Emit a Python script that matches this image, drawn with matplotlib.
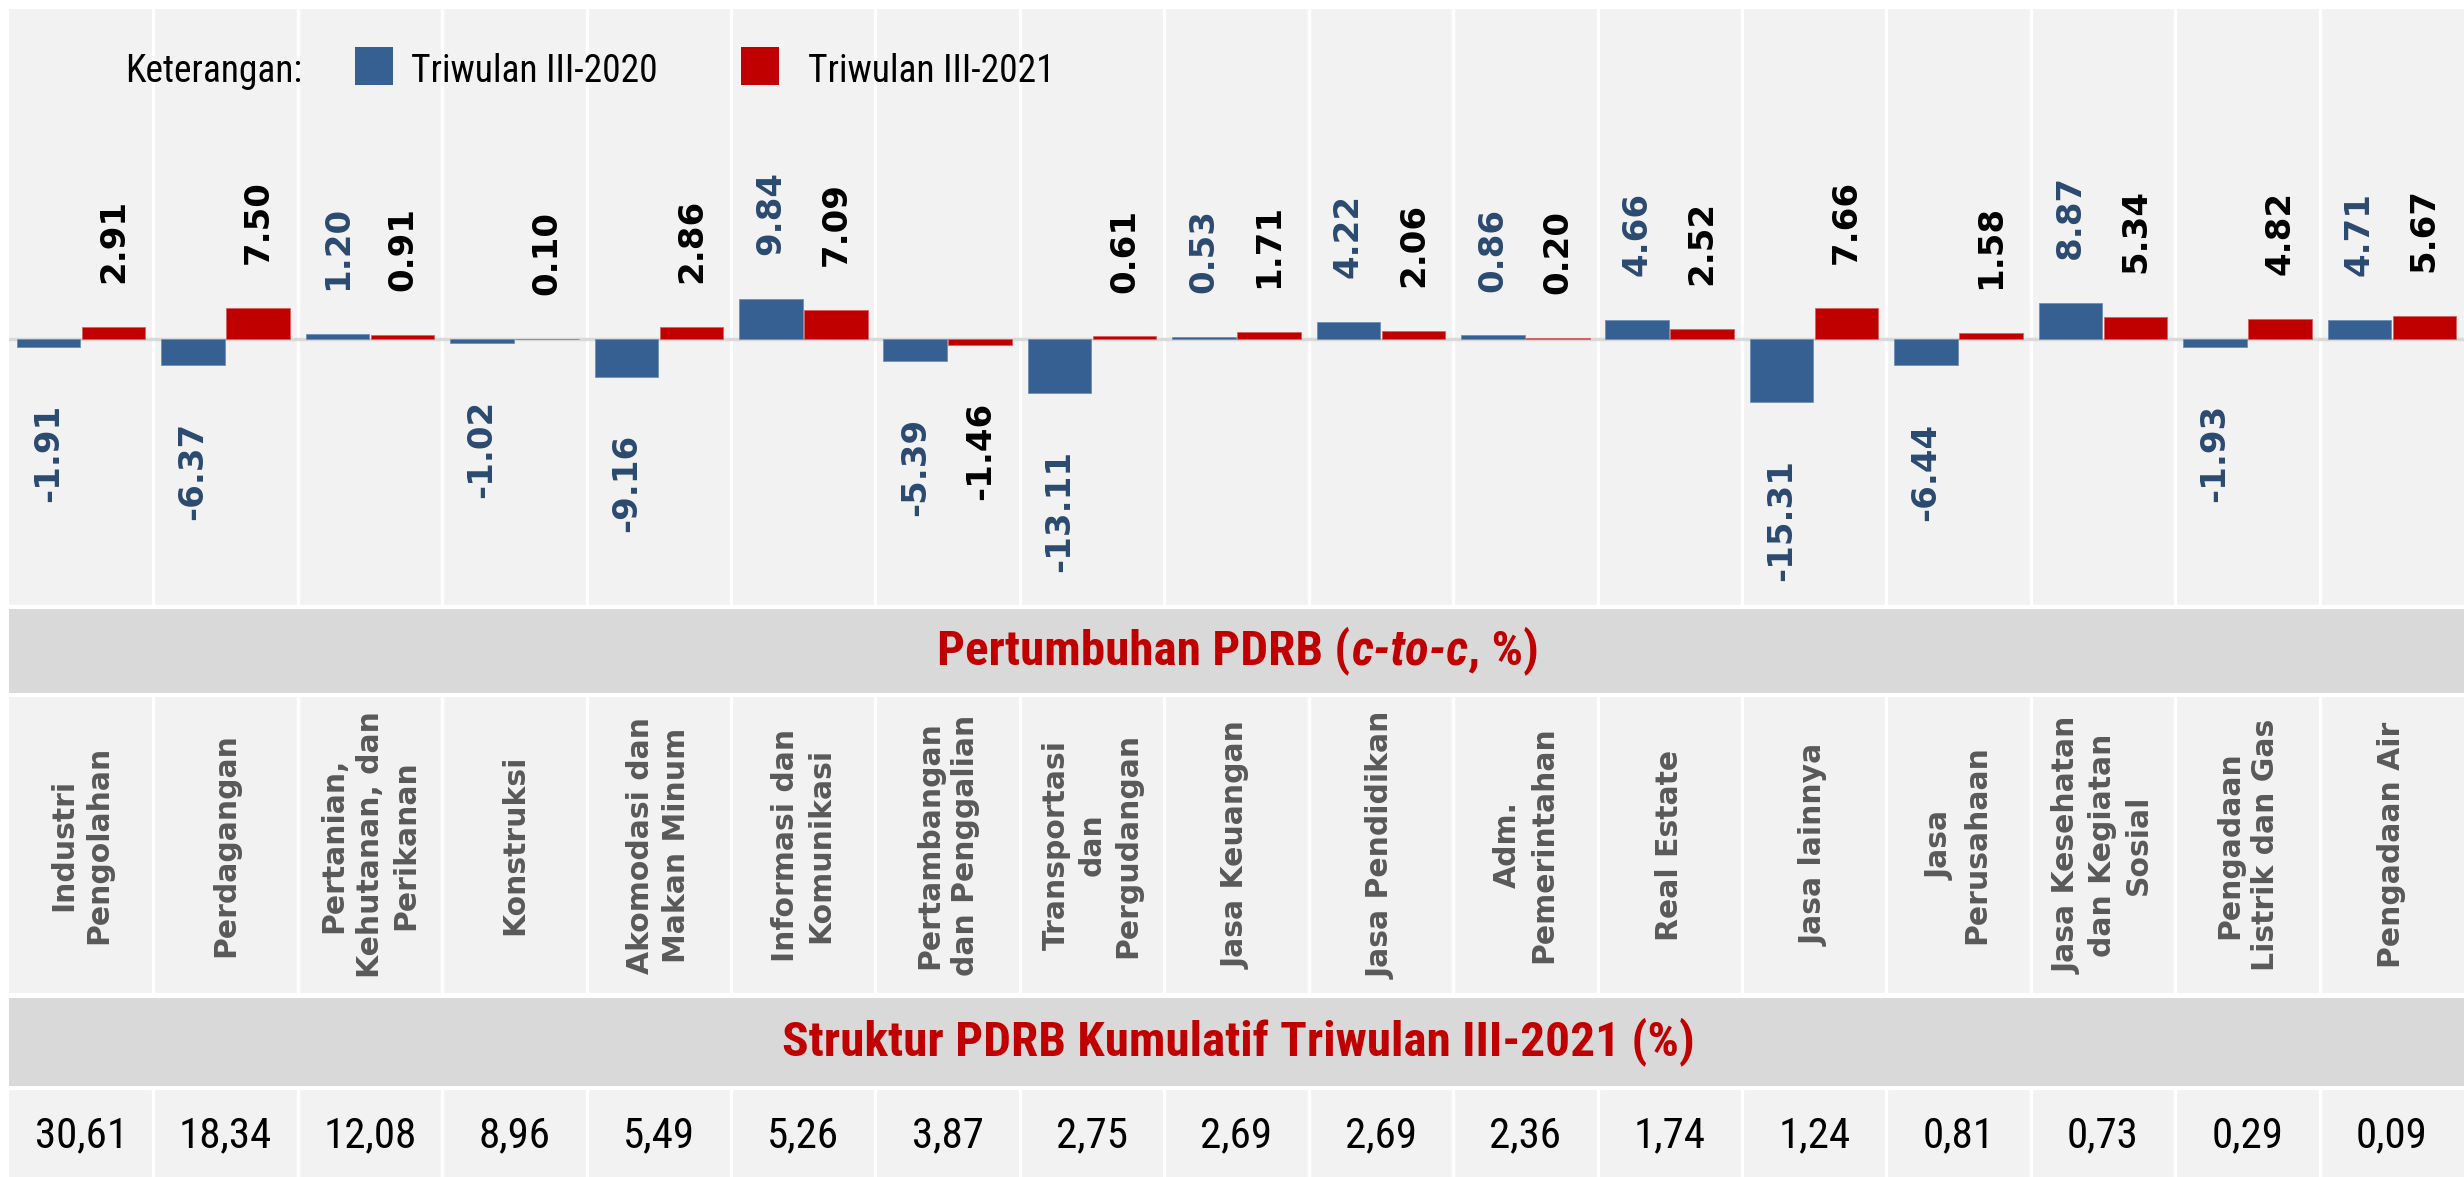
import os
import matplotlib
matplotlib.use("Agg")
import matplotlib.pyplot as plt
from matplotlib import font_manager as fm
from matplotlib.font_manager import FontProperties
from matplotlib.patches import Rectangle
import numpy as np

# ---------------- data ----------------
categories = [
    "Industri\nPengolahan", "Perdagangan", "Pertanian,\nKehutanan, dan\nPerikanan",
    "Konstruksi", "Akomodasi dan\nMakan Minum", "Informasi dan\nKomunikasi",
    "Pertambangan\ndan Penggalian", "Transportasi\ndan\nPergudangan", "Jasa Keuangan",
    "Jasa Pendidikan", "Adm.\nPemerintahan", "Real Estate", "Jasa lainnya",
    "Jasa\nPerusahaan", "Jasa Kesehatan\ndan Kegiatan\nSosial",
    "Pengadaan\nListrik dan Gas", "Pengadaan Air",
]
growth_2020 = [-1.91, -6.37, 1.20, -1.02, -9.16, 9.84, -5.39, -13.11, 0.53,
               4.22, 0.86, 4.66, -15.31, -6.44, 8.87, -1.93, 4.71]
growth_2021 = [2.91, 7.50, 0.91, 0.10, 2.86, 7.09, -1.46, 0.61, 1.71,
               2.06, 0.20, 2.52, 7.66, 1.58, 5.34, 4.82, 5.67]
structure_2021 = [30.61, 18.34, 12.08, 8.96, 5.49, 5.26, 3.87, 2.75, 2.69,
                  2.69, 2.36, 1.74, 1.24, 0.81, 0.73, 0.29, 0.09]
series_names = ["Triwulan III-2020", "Triwulan III-2021"]
legend_caption = "Keterangan:"
title_growth_parts = ["Pertumbuhan PDRB (", "c-to-c", ", %)"]
title_structure = "Struktur PDRB Kumulatif Triwulan III-2021 (%)"

# ---------------- fonts ----------------
def find_narrow():
    prefs = ["liberationsansnarrow", "robotocondensed", "opensanscondensed", "dejavusanscondensed"]
    for p in prefs:
        for f in fm.fontManager.ttflist:
            b = os.path.basename(f.fname).lower().replace("-", "").replace("_", "")
            if b.startswith(p):
                return f.name, f.stretch
    return "Liberation Sans", "normal"

NARROW, NSTRETCH = find_narrow()

def nprop(size, weight="normal", style="normal"):
    return FontProperties(family=NARROW, stretch=NSTRETCH, weight=weight, style=style, size=size)

# ---------------- colours ----------------
C_BLUE = "#376092"
C_RED = "#C00000"
C_BLUE_LBL = "#2B4A6F"
C_PANEL = "#F2F2F2"
C_BAND = "#D9D9D9"
C_CAT = "#595959"

W, H = 2464, 1177
fig = plt.figure(figsize=(W / 100, H / 100), dpi=100)
fig.patch.set_facecolor("white")

LEFT = 9

def add_axes_px(top, bottom):
    return fig.add_axes([LEFT / W, 1 - bottom / H, (W - LEFT) / W, (bottom - top) / H])

n = len(categories)
x = np.arange(n)

def setup(ax, color, seps=True):
    ax.set_facecolor(color)
    ax.set_xlim(-0.5, n - 0.5)
    for s in ax.spines.values():
        s.set_visible(False)
    ax.set_xticks([])
    ax.set_yticks([])
    if seps:
        for k in range(n - 1):
            ax.axvline(k + 0.5, color="white", lw=2.3, zorder=1)

# ---------------- bar area ----------------
ax = add_axes_px(9, 605)
setup(ax, C_PANEL)
px_per_unit = 4.1
ax.set_ylim(-(605 - 339) / px_per_unit, (339 - 9) / px_per_unit)
ax.axhline(0, color=C_BAND, lw=2.5, zorder=1.5)

bw = 0.44
off = 0.225
ax.bar(x - off, growth_2020, width=bw, color=C_BLUE, edgecolor="#6F8FB5", linewidth=0.6, zorder=2)
ax.bar(x + off, growth_2021, width=bw, color=C_RED, edgecolor="#D86060", linewidth=0.6, zorder=2)

pos_gap = 10.7
neg_gap = 13.9
for series, dx, col in ((growth_2020, -off, C_BLUE_LBL), (growth_2021, off, "black")):
    for xi, v in zip(x, series):
        if v >= 0:
            ax.text(xi + dx, v + pos_gap, f"{v:.2f}", rotation=90, ha="center", va="bottom",
                    fontsize=24.5, fontweight="bold", color=col, family="DejaVu Sans", zorder=3)
        else:
            ax.text(xi + dx, v - neg_gap, f"{v:.2f}", rotation=90, ha="center", va="top",
                    fontsize=24.5, fontweight="bold", color=col, family="DejaVu Sans", zorder=3)

# legend (manual)
ly = 1 - 82 / H
lp = nprop(27)
fig.text(125 / W, ly, legend_caption, ha="left", va="baseline", fontproperties=lp, color="black")
fig.patches.append(Rectangle((355 / W, 1 - 85 / H), 38 / W, 38 / H, transform=fig.transFigure,
                             facecolor=C_BLUE, edgecolor="none"))
fig.text(411 / W, ly, series_names[0], ha="left", va="baseline", fontproperties=lp, color="black")
fig.patches.append(Rectangle((741 / W, 1 - 85 / H), 38 / W, 38 / H, transform=fig.transFigure,
                             facecolor=C_RED, edgecolor="none"))
fig.text(808 / W, ly, series_names[1], ha="left", va="baseline", fontproperties=lp, color="black")

# ---------------- band 1 ----------------
b1 = add_axes_px(609, 693)
setup(b1, C_BAND, seps=False)

# ---------------- category label row ----------------
axl = add_axes_px(697, 993)
setup(axl, C_PANEL)
axl.set_ylim(0, 1)
for xi, lab in zip(x, categories):
    axl.text(xi, 0.5, lab, rotation=90, ha="center", va="center", multialignment="center",
             fontsize=21.5, fontweight="bold", color=C_CAT, family="DejaVu Sans", linespacing=1.3)

# ---------------- band 2 ----------------
b2 = add_axes_px(998, 1086)
setup(b2, C_BAND, seps=False)

# ---------------- values row ----------------
axv = add_axes_px(1090, 1177)
setup(axv, C_PANEL)
axv.set_ylim(0, 1)
for xi, v in zip(x, structure_2021):
    axv.text(xi, 0.47, f"{v:.2f}".replace(".", ","), ha="center", va="center",
             fontproperties=nprop(31), color="black")

# ---------------- band titles ----------------
renderer = fig.canvas.get_renderer()

def centered_segments(xc_px, yc_px, parts, props, color):
    texts = [fig.text(0, 1 - yc_px / H, s, ha="left", va="center", fontproperties=p, color=color)
             for s, p in zip(parts, props)]
    widths = [t.get_window_extent(renderer).width for t in texts]
    xs = xc_px - sum(widths) / 2
    for t, w in zip(texts, widths):
        t.set_x(xs / W)
        xs += w

TS = 35.5
centered_segments(1238, 651, title_growth_parts,
                  [nprop(TS, "bold"), nprop(TS, "bold", "italic"), nprop(TS, "bold")], C_RED)
fig.text(1238 / W, 1 - 1042 / H, title_structure, ha="center", va="center",
         fontproperties=nprop(TS, "bold"), color=C_RED)

fig.savefig("out.png", dpi=100, facecolor="white")
